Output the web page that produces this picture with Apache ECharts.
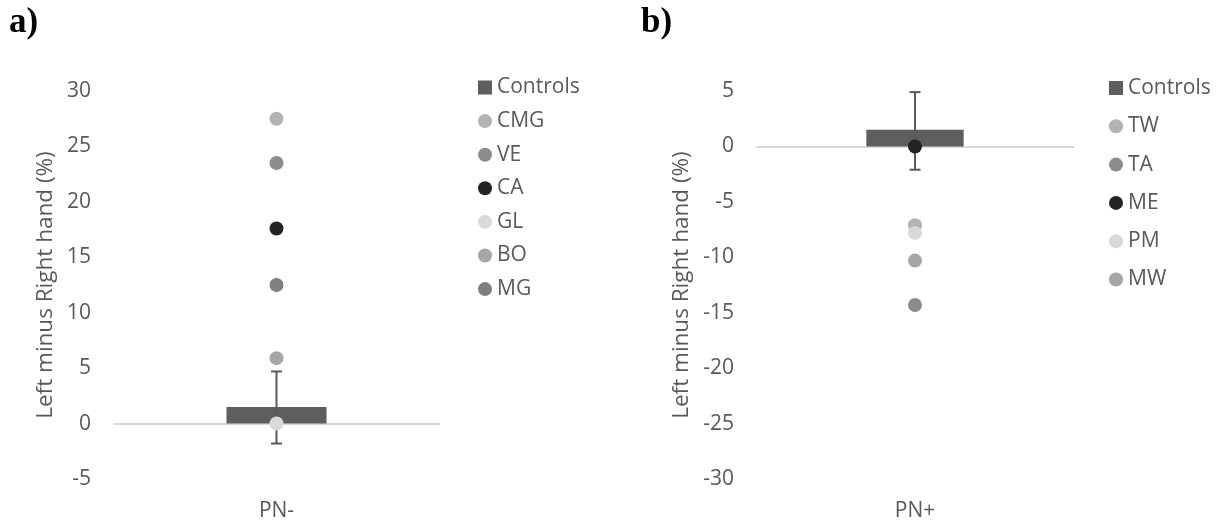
<!DOCTYPE html>
<html>
<head>
<meta charset="utf-8">
<script src="https://cdn.jsdelivr.net/npm/echarts@6/dist/echarts.min.js"></script>
<style>
html,body{margin:0;padding:0;background:#fff;}
#chart{width:1219px;height:527px;}
</style>
</head>
<body>
<div id="chart"></div>
<script>
// ---- Data ----
const catA = ['PN-'];
const catB = ['PN+'];
const yTicksA = {min: -5, max: 30, interval: 5};
const yTicksB = {min: -30, max: 5, interval: 5};
const yTitle = 'Left minus Right hand (%)';

// Controls mean and error bar (low, high)
const controlsA = [1.5];
const controlsErrA = [[-1.8, 4.7]];
const controlsB = [1.5];
const controlsErrB = [[-2.1, 4.9]];

// Individual patients (panel a: PN-)
const namesA = ['CMG', 'VE', 'CA', 'GL', 'BO', 'MG'];
const valuesA = [27.5, 23.5, 17.6, 0.0, 5.9, 12.5];
// Individual patients (panel b: PN+)
const namesB = ['TW', 'TA', 'ME', 'PM', 'MW'];
const valuesB = [-7.1, -14.3, 0.0, -7.8, -10.3];

const colorsA = ['#b3b3b3', '#8c8c8c', '#242424', '#d9d9d9', '#a6a6a6', '#7f7f7f'];
const colorsB = ['#b3b3b3', '#8c8c8c', '#242424', '#d9d9d9', '#a6a6a6'];
const barColor = '#5e5e5e';
const textColor = '#595959';
const FONT = '"Open Sans", sans-serif';
const FS = 21;

// ---- Build ----
const chart = echarts.init(document.getElementById('chart'), null, {renderer: 'canvas'});

function errRender(params, api) {
  const c = api.value(0);
  const lo = api.coord([c, api.value(1)]);
  const hi = api.coord([c, api.value(2)]);
  const half = 5.5;
  const st = {stroke: '#5a5a5a', lineWidth: 2};
  return {
    type: 'group',
    children: [
      {type: 'line', shape: {x1: lo[0], y1: lo[1], x2: hi[0], y2: hi[1]}, style: st},
      {type: 'line', shape: {x1: hi[0] - half, y1: hi[1], x2: hi[0] + half, y2: hi[1]}, style: st},
      {type: 'line', shape: {x1: lo[0] - half, y1: lo[1], x2: lo[0] + half, y2: lo[1]}, style: st}
    ]
  };
}

function yAxisCfg(gi, t, gap) {
  return {
    type: 'value', gridIndex: gi, min: t.min, max: t.max, interval: t.interval,
    axisLine: {show: false}, axisTick: {show: false}, splitLine: {show: false},
    axisLabel: {color: textColor, fontFamily: FONT, fontSize: FS, margin: 22},
    name: yTitle, nameLocation: 'middle', nameGap: gap,
    nameTextStyle: {color: textColor, fontFamily: FONT, fontSize: 22.5}
  };
}
function xAxisCfg(gi, cats) {
  return {
    type: 'category', gridIndex: gi, data: cats,
    axisLine: {show: false, onZero: false}, axisTick: {show: false},
    axisLabel: {color: textColor, fontFamily: FONT, fontSize: FS, margin: 22}
  };
}

const series = [];
function addPanel(gi, controls, err, names, values, colors) {
  series.push({
    name: 'Controls', type: 'bar', xAxisIndex: gi, yAxisIndex: gi,
    data: controls, barWidth: '30.6%', itemStyle: {color: barColor}, z: 2,
    markLine: {
      silent: true, symbol: 'none', label: {show: false},
      lineStyle: {color: '#d9d9d9', width: 2, type: 'solid'},
      data: [{yAxis: 0}], z: 1
    }
  });
  series.push({
    name: 'Controls', type: 'custom', xAxisIndex: gi, yAxisIndex: gi,
    data: err.map((e, i) => [i, e[0], e[1]]),
    encode: {x: 0, y: [1, 2]}, renderItem: errRender, z: 3, silent: true
  });
  names.forEach((n, i) => {
    series.push({
      name: n, type: 'scatter', xAxisIndex: gi, yAxisIndex: gi,
      data: [[0, values[i]]], symbol: 'circle', symbolSize: 14,
      itemStyle: {color: colors[i], opacity: 1}, z: 4 + i
    });
  });
}
addPanel(0, controlsA, controlsErrA, namesA, valuesA, colorsA);
addPanel(1, controlsB, controlsErrB, namesB, valuesB, colorsB);

function legendCfg(left, top, names, gap) {
  return {
    orient: 'vertical', left: left, top: top, itemWidth: 14, itemHeight: 14,
    itemGap: gap, itemTextGap: 4, selectedMode: false,
    textStyle: {color: textColor, fontFamily: FONT, fontSize: FS},
    data: [{name: 'Controls', icon: 'rect'}].concat(names.map(n => ({name: n, icon: 'circle'})))
  };
}

const option = {
  animation: false,
  backgroundColor: '#fff',
  grid: [
    {left: 113, top: 91, width: 327, height: 388},
    {left: 756, top: 91, width: 318, height: 388}
  ],
  xAxis: [xAxisCfg(0, catA), xAxisCfg(1, catB)],
  yAxis: [yAxisCfg(0, yTicksA, 56), yAxisCfg(1, yTicksB, 63)],
  legend: [legendCfg(473, 72, namesA, 12.6), legendCfg(1104, 72.5, namesB, 17.3)],
  graphic: [
    {type: 'text', left: 9, top: 5, style: {text: 'a)', font: 'bold 35px "Liberation Serif", serif', fill: '#000'}},
    {type: 'text', left: 641, top: 5, style: {text: 'b)', font: 'bold 35px "Liberation Serif", serif', fill: '#000'}}
  ],
  series: series
};
chart.setOption(option);
</script>
</body>
</html>
